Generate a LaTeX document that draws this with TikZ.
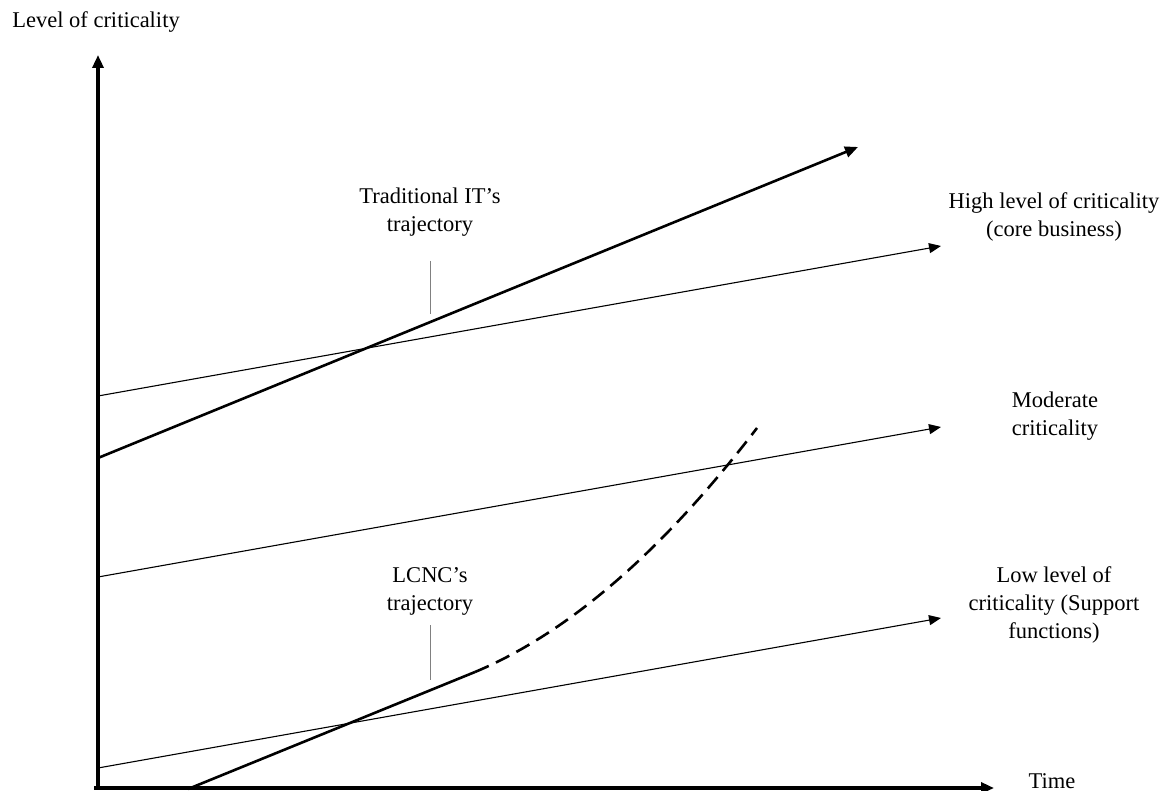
\documentclass[tikz,border=0pt]{standalone}
\usepackage{fontspec}
\setmainfont{Liberation Serif}
\usetikzlibrary{arrows.meta}
\begin{document}
\begin{tikzpicture}[x=1pt,y=-1pt,
  lbl/.style={align=center,inner sep=0pt,font=\fontsize{22.5}{28}\selectfont},
  axisline/.style={line width=3.6pt,-{Triangle[length=13pt,width=11pt]}},
  level/.style={line width=1.1pt,-{Triangle[length=12pt,width=10pt]}},
  traj/.style={line width=2.6pt},
  tick/.style={line width=1pt,gray}]
\useasboundingbox (0,0) rectangle (1161,791);

% axes
\coordinate (O) at (98,788);
\coordinate (Oleft) at (94,788);
\coordinate (Ytop) at (98,55);
\coordinate (Xend) at (994,788);
\draw[axisline] (O) -- (Ytop);
\draw[axisline] (Oleft) -- (Xend);
\node[lbl] (ylab) at (96,22) {Level of criticality};
\node[lbl,anchor=base] (xlab) at (1052,788) {Time};

% levels of criticality
\coordinate (h0) at (98,396);  \coordinate (h1) at (941,246);
\coordinate (m0) at (98,577);  \coordinate (m1) at (941,427);
\coordinate (l0) at (98,768);  \coordinate (l1) at (941,618);
\draw[level] (h0) -- (h1);
\draw[level] (m0) -- (m1);
\draw[level] (l0) -- (l1);
\node[lbl] (high) at (1054,217) {High level of criticality\\(core business)};
\node[lbl] (mod) at (1055,416) {Moderate\\criticality};
\node[lbl] (low) at (1054,605) {Low level of\\criticality (Support\\functions)};

% traditional IT trajectory
\coordinate (t0) at (98,458);
\coordinate (t1) at (858,147);
\draw[traj,-{Triangle[length=13pt,width=11pt]}] (t0) -- (t1);
\node[lbl] (tlab) at (430,212) {Traditional IT’s\\trajectory};
\coordinate (tk0) at (430,261); \coordinate (tk1) at (430,314);
\draw[tick] (tk0) -- (tk1);

% LCNC trajectory
\coordinate (c0) at (188,789);
\coordinate (c1) at (475,672);
\coordinate (c2) at (757,428);
\draw[traj] (c0) -- (c1);
\draw[traj,dash pattern=on 15pt off 8pt] (c1) .. controls (568,633) and (662,552) .. (c2);
\node[lbl] (clab) at (430,591) {LCNC’s\\trajectory};
\coordinate (ck0) at (430,625); \coordinate (ck1) at (430,680);
\draw[tick] (ck0) -- (ck1);
\end{tikzpicture}
\end{document}
